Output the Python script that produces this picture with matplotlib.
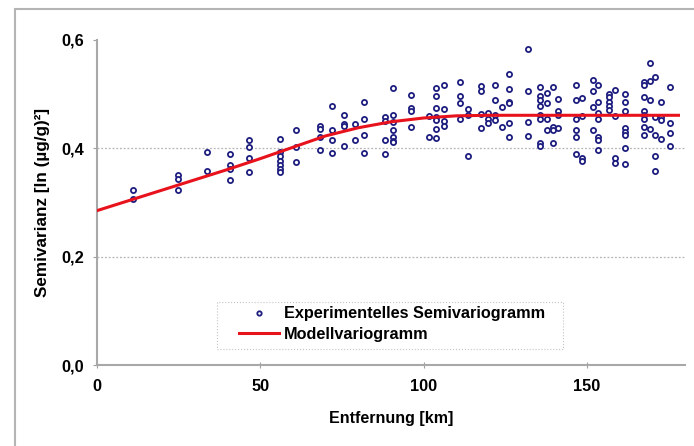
import numpy as np
import matplotlib
matplotlib.use('Agg')
import matplotlib.pyplot as plt
from matplotlib.patches import Rectangle
from matplotlib.ticker import FuncFormatter

# ── Experimental semivariogram: lag distance (km) and semivariances per lag ──
lag_km = [10.9, 24.9, 33.7, 40.6, 46.5, 56.1, 60.8, 68.3, 72.0, 75.5, 78.9,
          81.7, 88.1, 90.7, 96.1, 101.5, 103.8, 106.2, 111.0, 113.5, 117.6,
          119.7, 121.9, 124.0, 126.1, 131.9, 135.6, 137.9, 139.5, 141.2,
          146.7, 148.5, 151.8, 153.4, 156.7, 158.5, 161.5, 167.6, 169.3,
          170.9, 172.5, 175.3]
gamma_per_lag = [
    [0.323, 0.306],
    [0.350, 0.343, 0.323],
    [0.394, 0.359],
    [0.390, 0.369, 0.362, 0.341],
    [0.415, 0.402, 0.382, 0.356],
    [0.418, 0.394, 0.385, 0.377, 0.369, 0.362, 0.356],
    [0.433, 0.402, 0.374],
    [0.442, 0.436, 0.421, 0.397],
    [0.479, 0.433, 0.415, 0.392],
    [0.461, 0.444, 0.442, 0.405],
    [0.444, 0.415],
    [0.486, 0.455, 0.425, 0.392],
    [0.457, 0.451, 0.415, 0.390],
    [0.511, 0.461, 0.449, 0.433, 0.421, 0.414, 0.412],
    [0.498, 0.474, 0.468, 0.440],
    [0.460, 0.421],
    [0.511, 0.496, 0.474, 0.458, 0.452, 0.436, 0.419],
    [0.516, 0.473, 0.450, 0.442],
    [0.522, 0.497, 0.484, 0.454],
    [0.473, 0.461, 0.385],
    [0.515, 0.505, 0.463, 0.438],
    [0.465, 0.455, 0.447],
    [0.517, 0.489, 0.461, 0.452],
    [0.476, 0.440],
    [0.537, 0.509, 0.486, 0.483, 0.447, 0.420],
    [0.583, 0.505, 0.448, 0.422],
    [0.514, 0.497, 0.489, 0.478, 0.461, 0.455, 0.409, 0.404],
    [0.503, 0.484, 0.454, 0.434],
    [0.514, 0.440, 0.434, 0.409],
    [0.491, 0.468, 0.461, 0.438],
    [0.517, 0.489, 0.455, 0.433, 0.420, 0.390],
    [0.493, 0.460, 0.383, 0.377],
    [0.527, 0.505, 0.476, 0.433],
    [0.517, 0.486, 0.465, 0.454, 0.421, 0.415, 0.397],
    [0.501, 0.494, 0.486, 0.478, 0.471],
    [0.508, 0.459, 0.383, 0.373],
    [0.501, 0.486, 0.469, 0.437, 0.431, 0.425, 0.400, 0.371],
    [0.523, 0.516, 0.495, 0.469, 0.461, 0.454, 0.440, 0.425],
    [0.557, 0.524, 0.490, 0.435],
    [0.532, 0.457, 0.425, 0.385, 0.359],
    [0.486, 0.457, 0.452, 0.418],
    [0.514, 0.447, 0.428, 0.404],
]

# ── Model variogram ──
model_km = [0, 10, 20, 30, 40, 50, 60, 70, 80, 90, 100, 110, 120, 178]
model_gamma = [0.285, 0.304, 0.323, 0.342, 0.361, 0.381, 0.402, 0.423,
               0.438, 0.449, 0.456, 0.460, 0.461, 0.461]

x_ticks = [0, 50, 100, 150]
y_ticks = [0.0, 0.2, 0.4, 0.6]
grid_levels = [0.2, 0.4]

plt.rcParams['font.family'] = ['Liberation Sans', 'DejaVu Sans']
plt.rcParams['font.weight'] = 'bold'

exp_x = np.repeat(lag_km, [len(g) for g in gamma_per_lag])
exp_y = np.concatenate(gamma_per_lag)

W, H = 694, 446
fig = plt.figure(figsize=(W / 100, H / 100), dpi=100)
ax = fig.add_axes([97 / W, 81 / H, 588 / W, 325 / H])

# chart frame of the cropped spreadsheet chart
fig.patches.append(Rectangle((15 / W, -0.2), 2, 1.2 - 9 / H,
                             transform=fig.transFigure, fill=False,
                             edgecolor='#b4b4b4', lw=1.5))

ax.plot(exp_x, exp_y, 'o', ms=3.7, mfc='white', mec='#1e1e80', mew=1.3,
        label='Experimentelles Semivariogramm', zorder=3)
ax.plot(model_km, model_gamma, color='#e8121c', lw=2.2,
        label='Modellvariogramm', zorder=4)

ax.set_xlim(0, 180)
ax.set_ylim(0, 0.6)
ax.set_xticks(x_ticks)
ax.set_yticks(y_ticks)
ax.yaxis.set_major_formatter(FuncFormatter(lambda v, p: f'{v:.1f}'.replace('.', ',')))
ax.tick_params(axis='x', direction='inout', length=4, color='#a0a0a0',
               labelsize=11.8, pad=8)
ax.tick_params(axis='y', direction='out', length=3, color='#a0a0a0',
               labelsize=11.8, pad=6.5)
for lab in ax.get_xticklabels() + ax.get_yticklabels():
    lab.set_fontweight('bold')

for s in ['top', 'right']:
    ax.spines[s].set_visible(False)
for s in ['left', 'bottom']:
    ax.spines[s].set_color('#a8a8a8')
    ax.spines[s].set_linewidth(1.5)

for yv in grid_levels:
    ax.axhline(yv, color='#b4b4b4', lw=0.9, ls=(0, (1.5, 1.5)), zorder=1)

ax.set_xlabel('Entfernung [km]', fontsize=11.5, fontweight='bold', labelpad=12)
ax.set_ylabel('Semivarianz [ln (µg/g)²]', fontsize=12.3, fontweight='bold',
              labelpad=8)

# legend box (dotted frame) and frameless legend content inside it
ax.add_patch(Rectangle((217 / W, (H - 349) / H), 346 / W, 47 / H,
                       transform=fig.transFigure, fill=False,
                       edgecolor='#c4c4c4', lw=0.8, ls=':', zorder=5))
leg = ax.legend(loc='center left',
                bbox_to_anchor=(239 / W, (H - 324) / H),
                bbox_transform=fig.transFigure,
                fontsize=11.7, frameon=False, markerscale=0.85,
                handlelength=2.45, handletextpad=0.3, borderpad=0,
                labelspacing=0.32, borderaxespad=0)
for t in leg.get_texts():
    t.set_fontweight('bold')

fig.savefig('out.png', dpi=100)
